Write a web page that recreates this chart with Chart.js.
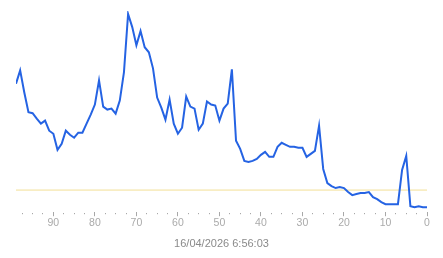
<!DOCTYPE html>
<html>
<head>
<meta charset="utf-8">
<script src="https://cdn.jsdelivr.net/npm/chart.js@4/dist/chart.umd.min.js"></script>
<style>
  html, body { margin: 0; padding: 0; background: #fff; }
  #wrap { width: 443px; height: 258px; }
</style>
</head>
<body>
<div id="wrap"><canvas id="chart"></canvas></div>
<script>
// x positions (seconds ago), newest on the right
const secondsAgo = [
  99, 98, 97, 96, 95, 94, 93, 92, 91, 90, 89, 88, 87, 86, 85, 84, 83, 82, 81, 80,
  79, 78, 77, 76, 75, 74, 73, 72, 71, 70, 69, 68, 67, 66, 65, 64, 63, 62, 61, 60,
  59, 58, 57, 56, 55, 54, 53, 52, 51, 50, 49, 48, 47, 46, 45, 44, 43, 42, 41, 40,
  39, 38, 37, 36, 35, 34, 33, 32, 31, 30, 29, 28, 27, 26, 25, 24, 23, 22, 21, 20,
  19, 18, 17, 16, 15, 14, 13, 12, 11, 10, 9, 8, 7, 6, 5, 4, 3, 2, 1, 0
];

const values = [
  63.9, 70.5, 59.5, 49.7, 49.2, 46.5, 44, 45.5, 40.5, 39, 31, 34, 40.5, 38.5, 37, 39.5, 39.5, 44, 48.5, 53.5,
  65.5, 52.5, 51, 51.5, 49, 55.5, 69.5, 98.5, 92, 83, 90, 82, 79.5, 71.5, 57, 52, 46, 56, 44, 39,
  42, 57.5, 52.5, 51.5, 41, 44, 55, 53.5, 53, 45.5, 51.5, 54, 71, 35.5, 31.5, 25.5, 25, 25.5, 26.5, 28.5,
  30, 27.5, 27.5, 32.5, 34.5, 33.5, 32.5, 32.5, 32, 32, 27.5, 29, 30.5, 43, 21.5, 14.5, 13, 12, 12.5, 12,
  10, 8.5, 9, 9.5, 9.5, 10, 7.5, 6.5, 5, 4, 4, 4, 4, 21, 28, 3, 2.5, 3, 2.5, 2.5
];

const threshold = 11;
const tickLabels = [90, 80, 70, 60, 50, 40, 30, 20, 10, 0];
const timestamp = '16/04/2026 6:56:03';

const labelFont = "'Liberation Sans', Arial, sans-serif";

const points = secondsAgo.map((s, i) => ({ x: s, y: values[i] }));
const limitLine = [
  { x: secondsAgo[0], y: threshold },
  { x: secondsAgo[secondsAgo.length - 1], y: threshold }
];

new Chart(document.getElementById('chart'), {
  type: 'line',
  data: {
    datasets: [
      {
        data: limitLine,
        borderColor: '#f2df96',
        borderWidth: 1,
        pointRadius: 0,
        order: 2
      },
      {
        data: points,
        borderColor: '#2563e3',
        borderWidth: 2,
        pointRadius: 0,
        tension: 0,
        order: 1
      }
    ]
  },
  options: {
    responsive: true,
    maintainAspectRatio: false,
    animation: false,
    layout: { padding: { top: 11, left: 16, right: 16, bottom: 3 } },
    plugins: {
      legend: { display: false },
      tooltip: { enabled: false }
    },
    scales: {
      x: {
        type: 'linear',
        reverse: true,
        min: 0,
        max: 99,
        border: { display: false },
        grid: {
          drawOnChartArea: false,
          drawTicks: true,
          tickLength: 4,
          tickColor: '#a8a8a8',
          tickWidth: 1,
          // minor ticks show as a single dot
          tickBorderDash: ctx => tickLabels.includes(ctx.tick && ctx.tick.value) ? [] : [0, 1, 1.2, 10]
        },
        ticks: {
          stepSize: 2.5,
          includeBounds: false,
          autoSkip: false,
          maxRotation: 0,
          padding: 1,
          color: '#aaaaaa',
          font: { family: labelFont, size: 10.5 },
          callback: v => tickLabels.includes(v) ? String(v) : ''
        },
        title: {
          display: true,
          text: timestamp,
          color: '#8a8a8a',
          font: { family: labelFont, size: 11 },
          padding: { top: 7, bottom: 4 }
        }
      },
      y: {
        display: false,
        min: 0,
        max: 100
      }
    }
  }
});
</script>
</body>
</html>
